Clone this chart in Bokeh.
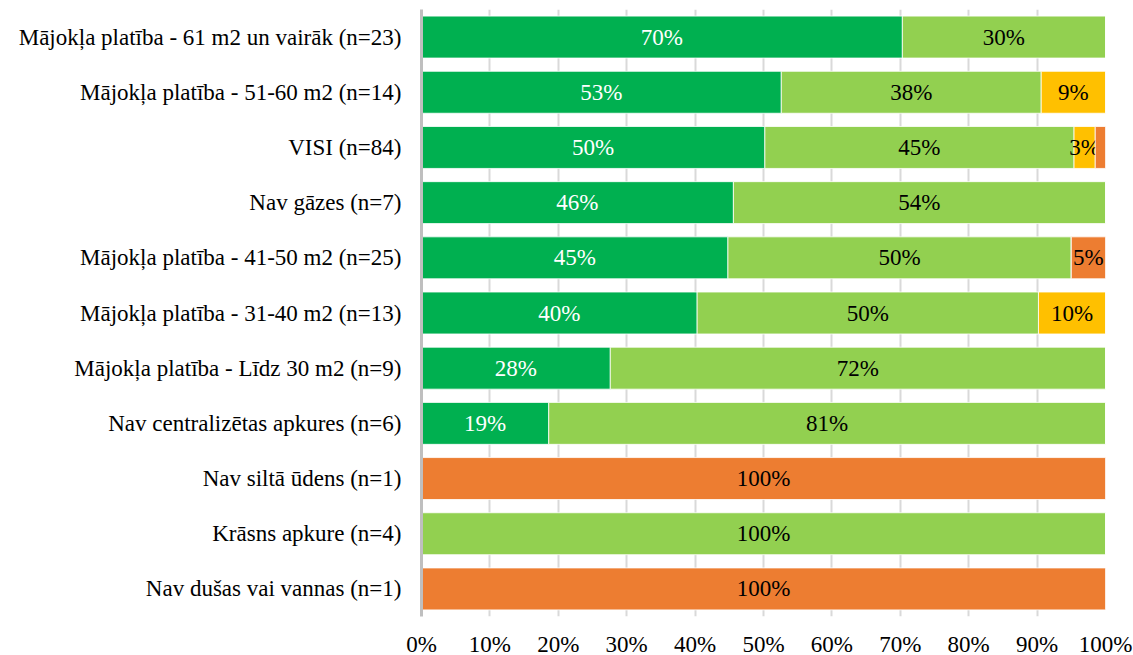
from bokeh.plotting import figure
from bokeh.models import ColumnDataSource, FactorRange, FixedTicker, NumeralTickFormatter
from bokeh.core.properties import value
from bokeh.embed import file_html
from bokeh.resources import INLINE

categories = [
    "Mājokļa platība - 61 m2 un vairāk (n=23)",
    "Mājokļa platība - 51-60 m2 (n=14)",
    "VISI (n=84)",
    "Nav gāzes (n=7)",
    "Mājokļa platība - 41-50 m2 (n=25)",
    "Mājokļa platība - 31-40 m2 (n=13)",
    "Mājokļa platība - Līdz 30 m2 (n=9)",
    "Nav centralizētas apkures (n=6)",
    "Nav siltā ūdens (n=1)",
    "Krāsns apkure (n=4)",
    "Nav dušas vai vannas (n=1)",
]
s1 = [70.3, 52.6, 50.2, 45.6, 44.8, 40.3, 27.6, 18.6, 0.0, 0.0, 0.0]
s2 = [29.7, 38.0, 45.2, 54.4, 50.2, 49.9, 72.4, 81.4, 0.0, 100.0, 0.0]
s3 = [0.0, 9.4, 3.1, 0.0, 0.0, 9.8, 0.0, 0.0, 0.0, 0.0, 0.0]
s4 = [0.0, 0.0, 1.5, 0.0, 5.0, 0.0, 0.0, 0.0, 100.0, 0.0, 100.0]
series = [s1, s2, s3, s4]
colors = ["#00B050", "#92D050", "#FFC000", "#ED7D31"]
text_colors = ["white", "black", "black", "black"]
tick_values = [0, 10, 20, 30, 40, 50, 60, 70, 80, 90, 100]

FONT = "'Liberation Serif', 'Times New Roman', Times, serif"
FS = "23px"

p = figure(
    frame_width=684, frame_height=607,
    y_range=FactorRange(factors=categories[::-1]),
    x_range=(0, 1),
    output_backend="svg", toolbar_location=None,
    min_border_left=421, min_border_right=28, min_border_top=9, min_border_bottom=39,
)
p.outline_line_color = None

for i, (vals, col, tcol) in enumerate(zip(series, colors, text_colors)):
    left = [sum(s[k] for s in series[:i]) / 100 for k in range(len(categories))]
    right = [l + v / 100 for l, v in zip(left, vals)]
    src = ColumnDataSource(dict(y=categories, left=left, right=right))
    p.hbar(y="y", left="left", right="right", height=0.76, source=src,
           fill_color=col, line_color="white", line_width=0.8)
    ly, lx, lt = [], [], []
    for k, v in enumerate(vals):
        if v >= 2:
            ly.append(categories[k])
            lx.append((left[k] + right[k]) / 2)
            lt.append(f"{round(v)}%")
    lsrc = ColumnDataSource(dict(y=ly, x=lx, t=lt))
    p.text(x="x", y="y", text="t", source=lsrc, text_align="center",
           text_baseline="middle", text_color=tcol,
           text_font=value(FONT), text_font_size=FS)

p.xaxis.ticker = FixedTicker(ticks=[t / 100 for t in tick_values])
p.xaxis.formatter = NumeralTickFormatter(format="0%")
p.xaxis.axis_line_color = None
p.xaxis.major_tick_line_color = None
p.xaxis.minor_tick_line_color = None
p.xaxis.major_label_text_font = FONT
p.xaxis.major_label_text_font_size = FS
p.xaxis.major_label_text_color = "black"
p.xaxis.major_label_standoff = 9

p.yaxis.axis_line_color = "#BFBFBF"
p.yaxis.axis_line_width = 3
p.yaxis.major_tick_line_color = None
p.yaxis.minor_tick_line_color = None
p.yaxis.major_label_text_font = FONT
p.yaxis.major_label_text_font_size = FS
p.yaxis.major_label_text_color = "black"
p.yaxis.major_label_standoff = 14

p.ygrid.grid_line_color = None
p.xgrid.grid_line_color = "#D9D9D9"
p.xgrid.grid_line_width = 2
p.xgrid.ticker = FixedTicker(ticks=[t / 100 for t in tick_values])

html = file_html(p, INLINE)
html = html.replace("<head>", "<head><style>html,body{margin:0;padding:0;overflow:hidden;}</style>", 1)
open("out.html", "w").write(html)
